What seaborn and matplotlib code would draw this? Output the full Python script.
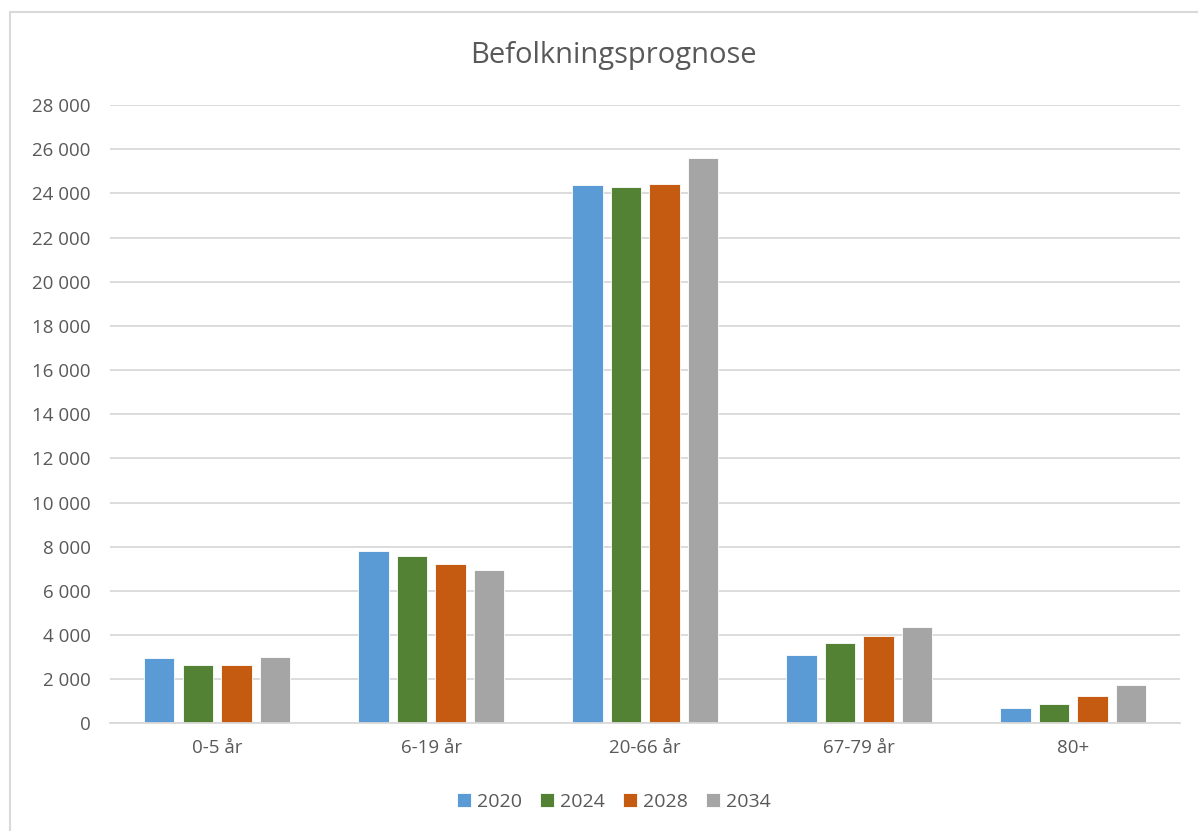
import pandas as pd
import matplotlib.pyplot as plt
import matplotlib.ticker as mticker
from matplotlib.patches import Rectangle
import seaborn as sns

age_groups = ["0-5 år", "6-19 år", "20-66 år", "67-79 år", "80+"]
years = ["2020", "2024", "2028", "2034"]
pop_2020 = [2970, 7830, 24360, 3110, 680]
pop_2024 = [2630, 7570, 24290, 3640, 890]
pop_2028 = [2630, 7230, 24430, 3970, 1230]
pop_2034 = [3010, 6960, 25590, 4350, 1730]

colors = ["#5B9BD5", "#548235", "#C55A11", "#A5A5A5"]

df = pd.DataFrame({"age": age_groups, "2020": pop_2020, "2024": pop_2024,
                   "2028": pop_2028, "2034": pop_2034})
df = df.melt(id_vars="age", var_name="year", value_name="pop")

sns.set_style("white")
plt.rcParams['font.family'] = ['Open Sans', 'DejaVu Sans']

fig = plt.figure(figsize=(11.98, 8.31), dpi=100)
ax = fig.add_axes([0.0918, 0.1294, 0.8935, 0.7442])

sns.barplot(data=df, x="age", y="pop", hue="year", hue_order=years,
            palette=colors, width=0.72, gap=0.21, ax=ax,
            edgecolor="white", linewidth=0.6, saturation=1)

ax.set_ylim(0, 28000)
ax.set_xlim(-0.5, 4.5)
ax.yaxis.set_major_locator(mticker.MultipleLocator(2000))
ax.yaxis.set_major_formatter(mticker.FuncFormatter(lambda v, p: f"{int(v):,}".replace(",", " ")))
ax.grid(axis="y", color="#D9D9D9", linewidth=1.3)
ax.set_axisbelow(True)
for s in ["top", "right", "left"]:
    ax.spines[s].set_visible(False)
ax.spines["bottom"].set_color("#D9D9D9")
ax.spines["bottom"].set_linewidth(1.3)
ax.tick_params(axis="both", length=0, labelsize=13.5, labelcolor="#595959")
ax.tick_params(axis="y", pad=14)
ax.tick_params(axis="x", pad=11)
ax.set_xlabel("")
ax.set_ylabel("")

fig.text(0.512, 0.924, "Befolkningsprognose", ha="center", va="baseline",
         fontsize=21, color="#595959")

# legend is centred on the whole chart area, not the plot area
handles, labels = ax.get_legend_handles_labels()
ax.legend(handles, labels, loc="center", bbox_to_anchor=(0.471, -0.127), ncol=4,
          frameon=False, fontsize=14, labelcolor="#595959", handlelength=0.72,
          handleheight=0.72, handletextpad=0.31, columnspacing=0.93)

fig.patches.append(Rectangle((10 / 1198, -0.1), 1.2, (831 - 12) / 831 + 0.1,
                             transform=fig.transFigure, fill=False,
                             edgecolor="#D9D9D9", linewidth=1.5))

fig.savefig("out.png", dpi=100)
